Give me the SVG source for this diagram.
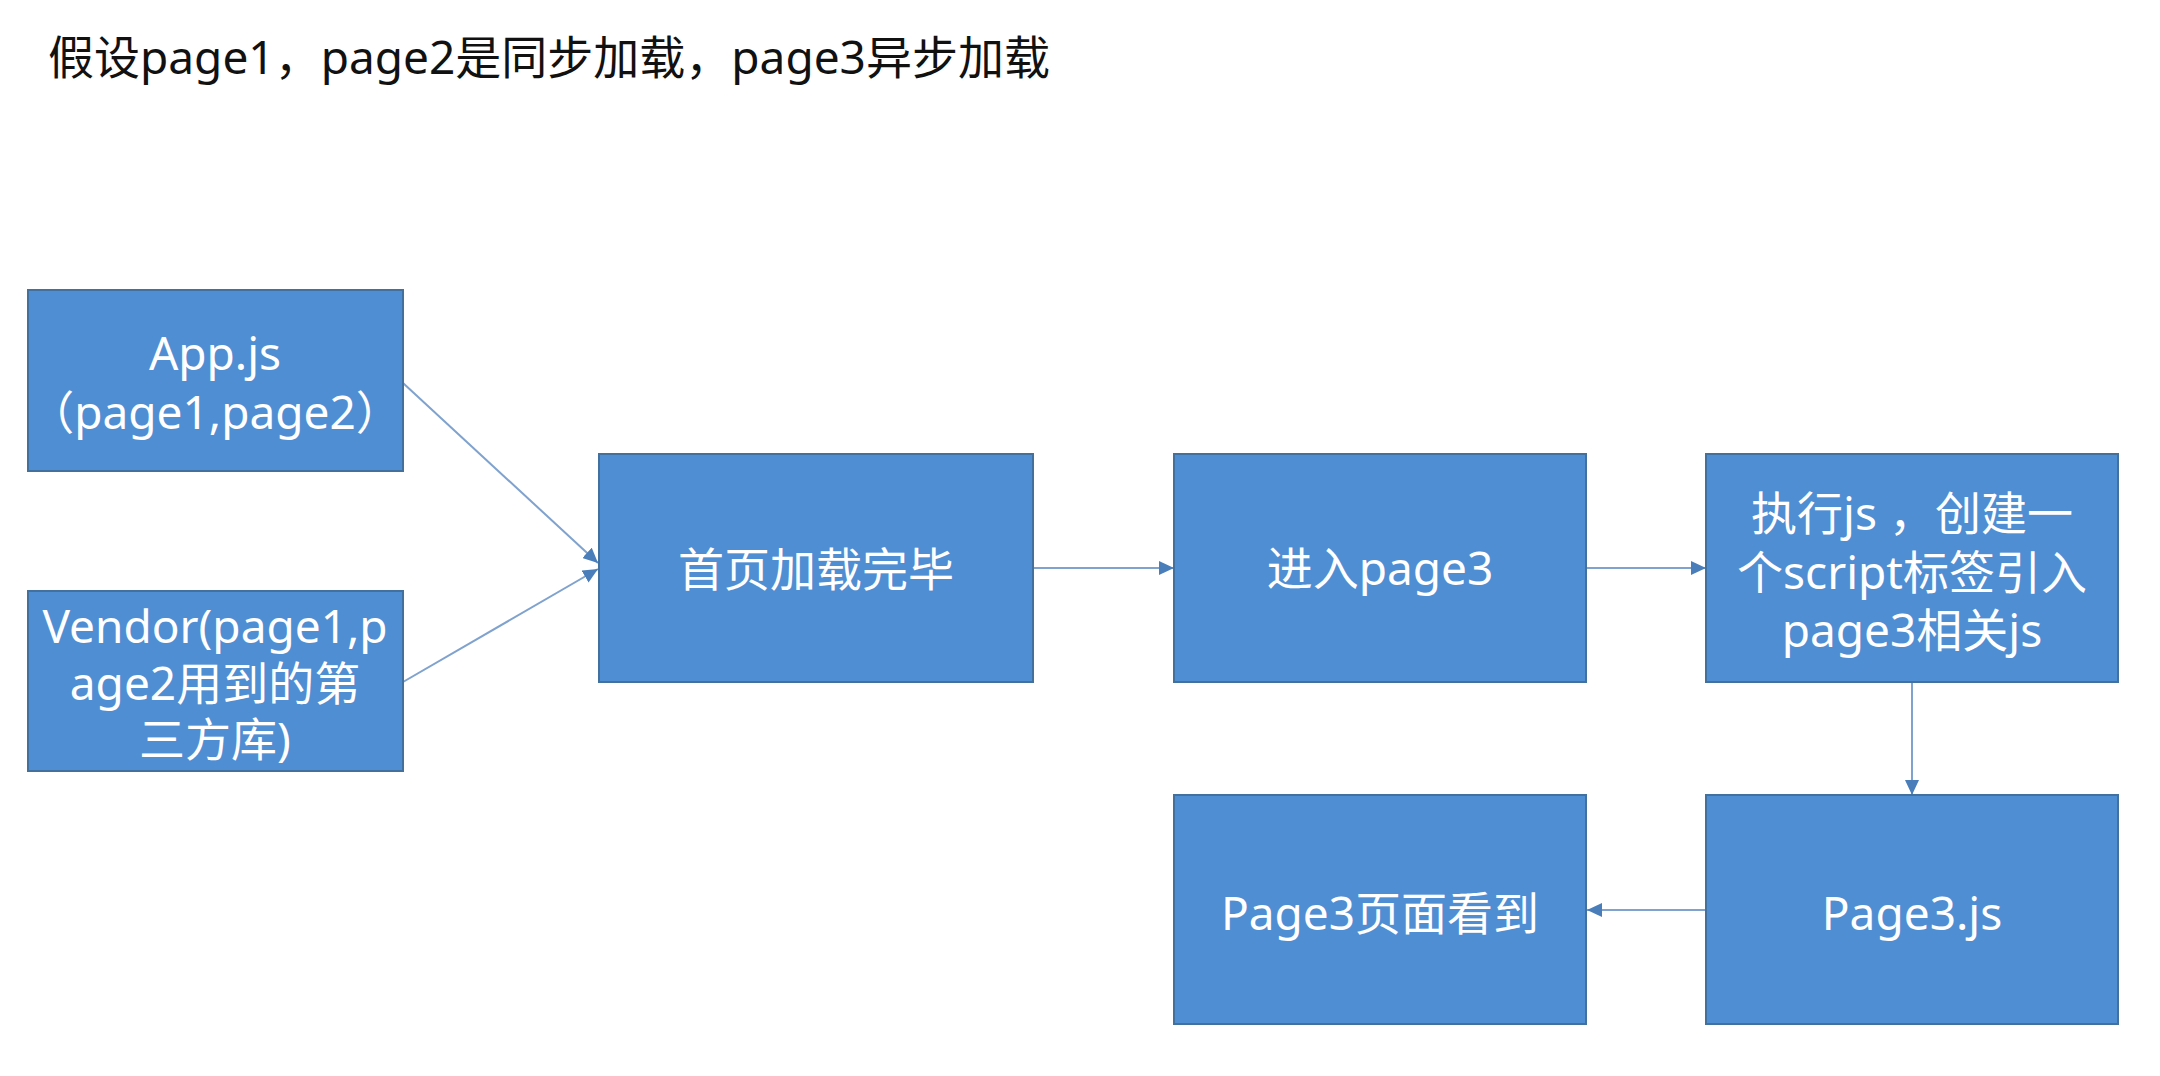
<svg xmlns="http://www.w3.org/2000/svg" width="2160" height="1076" viewBox="0 0 2160 1076">
<style>
.box{fill:#4F8ED3;stroke:#41719C;stroke-width:2}
.lbl{font-family:"Noto Sans","Noto Sans CJK SC",sans-serif;font-size:46px;fill:#ffffff;text-anchor:middle}
.title{font-family:"Noto Sans","Noto Sans CJK SC",sans-serif;font-size:46px;fill:#111111}
.edge{stroke:#7FA2CE;stroke-width:2;fill:none;marker-end:url(#ah)}
</style>
<defs>
<marker id="ah" markerUnits="userSpaceOnUse" markerWidth="16" markerHeight="14" refX="15" refY="7" orient="auto">
<path d="M0,0 L15,7 L0,14 Z" fill="#4A7EBB"/>
</marker>
</defs>
<rect width="2160" height="1076" fill="#ffffff"/>
<text class="title" x="48" y="74">假设page1，page2是同步加载，page3异步加载</text>
<g id="connectors">
<line class="edge" x1="403" y1="383" x2="598" y2="563"/>
<line class="edge" x1="403" y1="682" x2="598" y2="569"/>
<line class="edge" x1="1033" y1="568" x2="1174" y2="568"/>
<line class="edge" x1="1586" y1="568" x2="1706" y2="568"/>
<line class="edge" x1="1912" y1="682" x2="1912" y2="795"/>
<line class="edge" x1="1706" y1="910" x2="1587" y2="910"/>
</g>
<g id="app">
<rect class="box" x="28" y="290" width="375" height="181"/>
<text class="lbl" x="215" y="370">App.js</text>
<text class="lbl" x="215" y="429">（page1,page2）</text>
</g>
<g id="vendor">
<rect class="box" x="28" y="591" width="375" height="180"/>
<text class="lbl" x="215" y="643">Vendor(page1,p</text>
<text class="lbl" x="215" y="700">age2用到的第</text>
<text class="lbl" x="215" y="756">三方库)</text>
</g>
<g id="home">
<rect class="box" x="599" y="454" width="434" height="228"/>
<text class="lbl" x="816" y="586">首页加载完毕</text>
</g>
<g id="enter">
<rect class="box" x="1174" y="454" width="412" height="228"/>
<text class="lbl" x="1380" y="585">进入page3</text>
</g>
<g id="script">
<rect class="box" x="1706" y="454" width="412" height="228"/>
<text class="lbl" x="1912" y="530">执行js ，创建一</text>
<text class="lbl" x="1912" y="589">个script标签引入</text>
<text class="lbl" x="1912" y="647">page3相关js</text>
</g>
<g id="page3js">
<rect class="box" x="1706" y="795" width="412" height="229"/>
<text class="lbl" x="1912" y="930">Page3.js</text>
</g>
<g id="page3seen">
<rect class="box" x="1174" y="795" width="412" height="229"/>
<text class="lbl" x="1380" y="930">Page3页面看到</text>
</g>
</svg>
